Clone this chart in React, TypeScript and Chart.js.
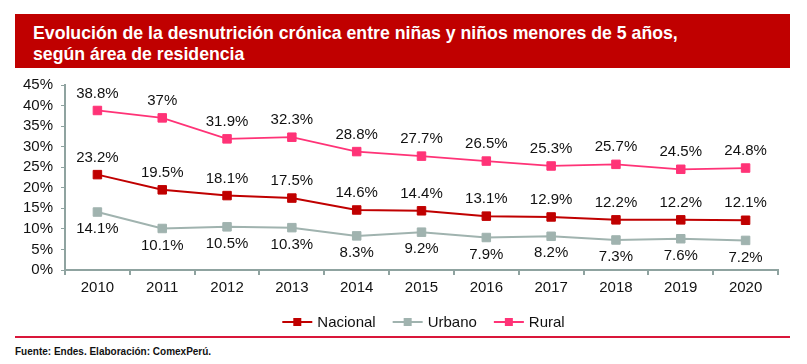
import React, { useEffect, useRef } from "react";
import { Chart, registerables } from "chart.js";

Chart.register(...registerables);

const years = ["2010", "2011", "2012", "2013", "2014", "2015", "2016", "2017", "2018", "2019", "2020"];
const nacional = [23.2, 19.5, 18.1, 17.5, 14.6, 14.4, 13.1, 12.9, 12.2, 12.2, 12.1];
const urbano = [14.1, 10.1, 10.5, 10.3, 8.3, 9.2, 7.9, 8.2, 7.3, 7.6, 7.2];
const rural = [38.8, 37, 31.9, 32.3, 28.8, 27.7, 26.5, 25.3, 25.7, 24.5, 24.8];

const seriesNames = ["Nacional", "Urbano", "Rural"];
const seriesColors = ["#C00000", "#A0B3AF", "#FF3377"];
const labelSide = [-1, 1, -1];

const FONT = "'Liberation Sans', Arial, sans-serif";
const AXIS = "#8FA3A0";

const valueLabels = {
  id: "valueLabels",
  afterDatasetsDraw(chart: any) {
    const ctx = chart.ctx;
    ctx.save();
    ctx.font = `15px ${FONT}`;
    ctx.fillStyle = "#111111";
    ctx.textAlign = "center";
    ctx.textBaseline = "middle";
    chart.data.datasets.forEach((ds: any, i: number) => {
      const meta = chart.getDatasetMeta(i);
      meta.data.forEach((pt: any, j: number) => {
        ctx.fillText(`${ds.data[j]}%`, pt.x, pt.y + labelSide[i] * 17);
      });
    });
    ctx.restore();
  },
};

const customLegend = {
  id: "customLegend",
  afterDraw(chart: any) {
    const ctx = chart.ctx;
    const area = chart.chartArea;
    ctx.save();
    ctx.font = `15px ${FONT}`;
    const lineW = 30;
    const gap = 5;
    const itemGap = 17;
    const widths = seriesNames.map((n) => lineW + gap + ctx.measureText(n).width);
    const total = widths.reduce((a, b) => a + b, 0) + itemGap * (seriesNames.length - 1);
    let x = (area.left + area.right) / 2 - total / 2 + 2;
    const y = area.bottom + 52;
    seriesNames.forEach((n, i) => {
      ctx.strokeStyle = seriesColors[i];
      ctx.lineWidth = 2;
      ctx.beginPath();
      ctx.moveTo(x, y);
      ctx.lineTo(x + lineW, y);
      ctx.stroke();
      ctx.fillStyle = seriesColors[i];
      ctx.fillRect(x + lineW / 2 - 4, y - 4, 8, 8);
      ctx.fillStyle = "#111111";
      ctx.textAlign = "left";
      ctx.textBaseline = "middle";
      ctx.fillText(n, x + lineW + gap, y + 1);
      x += widths[i] + itemGap;
    });
    ctx.restore();
  },
};

export default function App() {
  const canvasRef = useRef<HTMLCanvasElement | null>(null);

  useEffect(() => {
    document.body.style.margin = "0";
    const allData = [nacional, urbano, rural];
    const chart = new Chart(canvasRef.current as HTMLCanvasElement, {
      type: "line",
      data: {
        labels: years,
        datasets: seriesNames.map((n, i) => ({
          label: n,
          data: allData[i],
          borderColor: seriesColors[i],
          backgroundColor: seriesColors[i],
          borderWidth: i === 2 ? 1.75 : 2,
          pointStyle: "rect",
          pointRadius: 6,
          pointBorderWidth: 1,
          pointBorderColor: seriesColors[i],
          pointBackgroundColor: seriesColors[i],
          tension: 0,
        })),
      },
      options: {
        animation: false,
        responsive: false,
        maintainAspectRatio: false,
        layout: { padding: { top: 10, right: 29, left: 0, bottom: 0 } },
        plugins: {
          legend: { display: false },
          tooltip: { enabled: false },
          title: { display: false },
        },
        scales: {
          x: {
            offset: true,
            grid: {
              offset: true,
              drawOnChartArea: false,
              drawTicks: true,
              tickLength: 5,
              color: AXIS,
              lineWidth: 2,
            },
            border: { color: AXIS, width: 2 },
            ticks: {
              color: "#111111",
              font: { family: FONT, size: 15 },
              padding: 4,
              maxRotation: 0,
              autoSkip: false,
            },
            afterFit: (s: any) => {
              s.height = 66;
            },
          },
          y: {
            min: 0,
            max: 45,
            grid: {
              drawOnChartArea: false,
              drawTicks: true,
              tickLength: 4,
              color: AXIS,
              lineWidth: 1,
            },
            border: { color: AXIS, width: 2 },
            ticks: {
              stepSize: 5,
              autoSkip: false,
              color: "#111111",
              font: { family: FONT, size: 15 },
              padding: 8,
              callback: (v: any) => `${v}%`,
            },
            afterFit: (s: any) => {
              s.width = 65;
            },
          },
        },
      },
      plugins: [valueLabels, customLegend],
    });
    return () => chart.destroy();
  }, []);

  return (
    <div style={{ position: "relative", width: 807, height: 364, background: "#fff", fontFamily: FONT, overflow: "hidden" }}>
      <div
        style={{
          position: "absolute",
          left: 15,
          top: 14,
          width: 775,
          height: 54,
          background: "#C00000",
          boxSizing: "border-box",
          paddingLeft: 18,
          paddingTop: 9,
          color: "#ffffff",
          fontWeight: "bold",
          fontSize: 17.7,
          lineHeight: "21px",
          whiteSpace: "nowrap",
        }}
      >
        Evolución de la desnutrición crónica entre niñas y niños menores de 5 años,
        <br />
        según área de residencia
      </div>
      <canvas
        ref={canvasRef}
        width={807}
        height={268}
        style={{ position: "absolute", left: 0, top: 68, width: 807, height: 268 }}
      />
      <div style={{ position: "absolute", left: 15, top: 336, width: 775, height: 2, background: "#D9163A" }} />
      <div
        style={{
          position: "absolute",
          left: 15,
          top: 346,
          fontSize: 10,
          fontWeight: "bold",
          color: "#111111",
          lineHeight: "12px",
          whiteSpace: "nowrap",
        }}
      >
        Fuente: Endes. Elaboración: ComexPerú.
      </div>
    </div>
  );
}
